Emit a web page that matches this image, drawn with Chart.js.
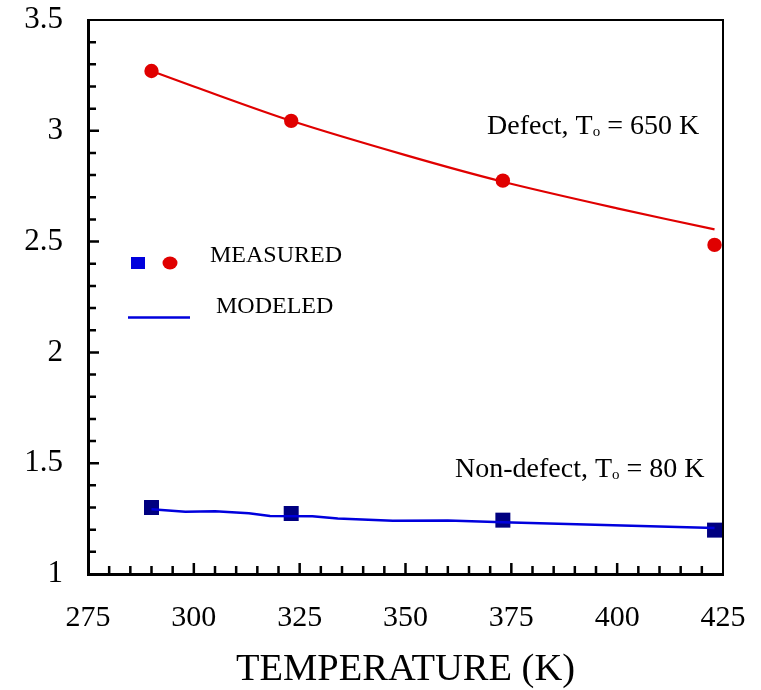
<!DOCTYPE html>
<html>
<head>
<meta charset="utf-8">
<script src="https://cdn.jsdelivr.net/npm/chart.js@4/dist/chart.umd.min.js"></script>
<style>
  html, body { margin: 0; padding: 0; background: #fff; }
  canvas { display: block; }
</style>
</head>
<body>
<canvas id="c" width="761" height="690"></canvas>
<script>
// ---- data ----
const measuredTemps = [290, 323, 373, 423];
const defectMeasured = [3.27, 3.045, 2.775, 2.485];
const nonDefectMeasured = [1.30, 1.273, 1.243, 1.198];

const defectModelTemps = [290, 300, 323, 350, 373, 400, 423];
const defectModeled = [3.27, 3.20, 3.045, 2.89, 2.77, 2.65, 2.555];

const nonDefectModelTemps = [290, 298, 305, 313, 318, 328, 334, 347, 360, 373, 423];
const nonDefectModeled = [1.292, 1.281, 1.283, 1.274, 1.262, 1.261, 1.25, 1.24, 1.241, 1.233, 1.208];

const xTickLabels = [275, 300, 325, 350, 375, 400, 425];
const yTickLabels = [1, 1.5, 2, 2.5, 3, 3.5];

const xAxisTitle = 'TEMPERATURE (K)';
const legendMeasured = 'MEASURED';
const legendModeled = 'MODELED';
const defectLabel = ['Defect, T', 'o', ' = 650 K'];
const nonDefectLabel = ['Non-defect, T', 'o', ' = 80 K'];

const RED = '#e00000';
const BLUE = '#0000dd';
const NAVY = '#000080';
const SERIF = '"Liberation Serif", "Times New Roman", serif';

const pts = (xs, ys) => xs.map((v, i) => ({ x: v, y: ys[i] }));

function drawSubLabel(ctx, parts, x, y, size) {
  ctx.textBaseline = 'alphabetic';
  ctx.textAlign = 'left';
  ctx.font = size + 'px ' + SERIF;
  ctx.fillText(parts[0], x, y);
  let cx = x + ctx.measureText(parts[0]).width;
  ctx.font = Math.round(size * 0.55) + 'px ' + SERIF;
  ctx.fillText(parts[1], cx, y + 2);
  cx += ctx.measureText(parts[1]).width;
  ctx.font = size + 'px ' + SERIF;
  ctx.fillText(parts[2], cx, y);
}

const decor = {
  id: 'decor',
  beforeDatasetsDraw(chart) {
    const { ctx, chartArea: a, scales: { x, y } } = chart;
    ctx.save();
    ctx.strokeStyle = '#000';
    ctx.lineWidth = 2;
    ctx.beginPath();
    ctx.moveTo(a.left, a.top);
    ctx.lineTo(a.right, a.top);
    ctx.lineTo(a.right, a.bottom);
    ctx.stroke();
    // inward ticks
    ctx.lineWidth = 2.5;
    ctx.beginPath();
    for (let v = 275; v <= 425; v += 5) {
      if (v === 275 || v === 425) continue;
      const px = x.getPixelForValue(v);
      const len = (v % 25 === 0) ? 11 : 8;
      ctx.moveTo(px, a.bottom);
      ctx.lineTo(px, a.bottom - len);
    }
    for (let i = 1; i < 25; i++) {
      const v = 1 + i * 0.1;
      const py = y.getPixelForValue(v);
      const len = (i % 5 === 0) ? 11 : 8;
      ctx.moveTo(a.left, py);
      ctx.lineTo(a.left + len, py);
    }
    ctx.stroke();
    ctx.restore();
  },
  afterDraw(chart) {
    const { ctx } = chart;
    ctx.save();
    ctx.fillStyle = '#000';
    // annotations
    drawSubLabel(ctx, defectLabel, 487, 134, 28);
    drawSubLabel(ctx, nonDefectLabel, 455, 477, 28);
    // legend
    ctx.fillStyle = BLUE;
    ctx.fillRect(131, 257, 14, 12);
    ctx.fillStyle = RED;
    ctx.beginPath();
    ctx.ellipse(170, 263, 7.5, 6.5, 0, 0, Math.PI * 2);
    ctx.fill();
    ctx.strokeStyle = BLUE;
    ctx.lineWidth = 2.5;
    ctx.beginPath();
    ctx.moveTo(128, 317.5);
    ctx.lineTo(190, 317.5);
    ctx.stroke();
    ctx.fillStyle = '#000';
    ctx.font = '24px ' + SERIF;
    ctx.textBaseline = 'alphabetic';
    ctx.fillText(legendMeasured, 210, 262);
    ctx.fillText(legendModeled, 216, 313);
    ctx.restore();
  }
};

new Chart(document.getElementById('c'), {
  type: 'scatter',
  data: {
    datasets: [
      {
        label: 'Defect modeled', data: pts(defectModelTemps, defectModeled),
        showLine: true, borderColor: RED, borderWidth: 2.2, pointRadius: 0, tension: 0.3, fill: false
      },
      {
        label: 'Non-defect modeled', data: pts(nonDefectModelTemps, nonDefectModeled),
        showLine: true, borderColor: BLUE, borderWidth: 2.5, pointRadius: 0, tension: 0, fill: false
      },
      {
        label: 'Defect measured', data: pts(measuredTemps, defectMeasured),
        showLine: false, pointStyle: 'circle', pointRadius: 7.2, backgroundColor: RED, borderColor: RED, borderWidth: 0
      },
      {
        label: 'Non-defect measured', data: pts(measuredTemps, nonDefectMeasured),
        showLine: false, pointStyle: 'rect', pointRadius: 10.6, backgroundColor: NAVY, borderColor: NAVY, borderWidth: 0
      }
    ]
  },
  options: {
    responsive: false,
    animation: false,
    events: [],
    layout: { padding: { top: 20, right: 38, left: 0, bottom: 0 } },
    plugins: { legend: { display: false }, tooltip: { enabled: false } },
    scales: {
      x: {
        type: 'linear', min: 275, max: 425,
        afterBuildTicks(s) { s.ticks = xTickLabels.map(v => ({ value: v })); },
        ticks: { font: { family: SERIF, size: 30 }, color: '#000', padding: 26, callback: v => String(v) },
        grid: { display: false, drawTicks: false },
        border: { display: true, width: 3, color: '#000' },
        title: { display: true, text: xAxisTitle, color: '#000', font: { family: SERIF, size: 38.5 }, padding: { top: 0, bottom: -3 } },
        afterFit(s) { s.height = 116; s.paddingLeft = 0; s.paddingRight = 0; }
      },
      y: {
        type: 'linear', min: 1, max: 3.5,
        afterBuildTicks(s) { s.ticks = yTickLabels.map(v => ({ value: v })); },
        ticks: { font: { family: SERIF, size: 31 }, color: '#000', padding: 25, callback: v => String(v) },
        grid: { display: false, drawTicks: false },
        border: { display: true, width: 3, color: '#000' },
        afterFit(s) { s.width = 88; s.paddingTop = 0; s.paddingBottom = 0; }
      }
    }
  },
  plugins: [decor]
});
</script>
</body>
</html>
